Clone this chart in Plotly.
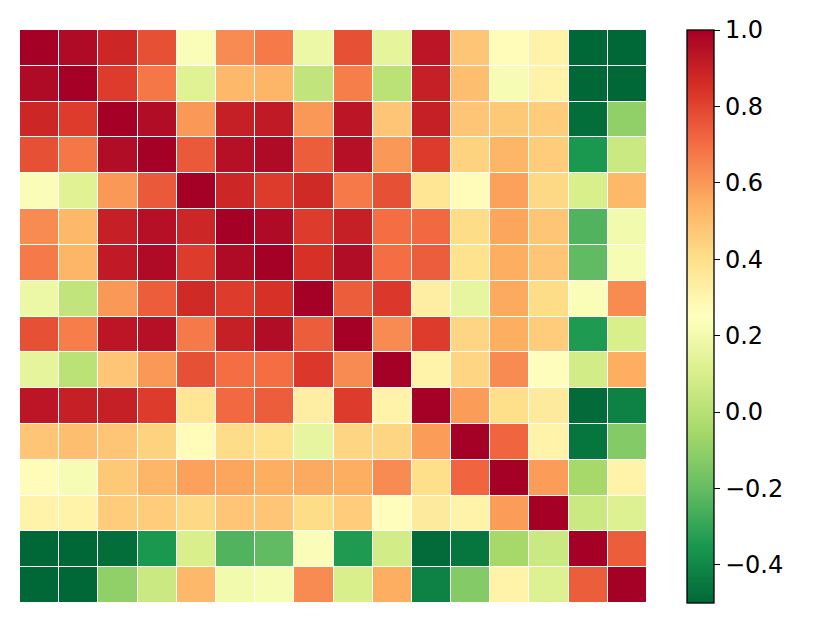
import plotly.graph_objects as go

labels = [str(i) for i in range(16)]

row_00 = [1.00, 0.97, 0.88, 0.77, 0.23, 0.63, 0.67, 0.18, 0.77, 0.15, 0.93, 0.48, 0.27, 0.31, -0.50, -0.50]
row_01 = [0.97, 1.00, 0.82, 0.68, 0.13, 0.52, 0.53, 0.03, 0.66, 0.01, 0.90, 0.50, 0.22, 0.31, -0.50, -0.50]
row_02 = [0.88, 0.82, 1.00, 0.96, 0.60, 0.90, 0.92, 0.60, 0.93, 0.48, 0.90, 0.48, 0.47, 0.46, -0.48, -0.10]
row_03 = [0.77, 0.68, 0.96, 1.00, 0.75, 0.95, 0.97, 0.74, 0.95, 0.60, 0.82, 0.44, 0.53, 0.46, -0.35, 0.06]
row_04 = [0.23, 0.13, 0.60, 0.75, 1.00, 0.88, 0.82, 0.87, 0.67, 0.77, 0.37, 0.27, 0.58, 0.42, 0.10, 0.52]
row_05 = [0.63, 0.52, 0.90, 0.95, 0.88, 1.00, 0.97, 0.82, 0.90, 0.70, 0.71, 0.41, 0.57, 0.48, -0.24, 0.20]
row_06 = [0.67, 0.53, 0.92, 0.97, 0.82, 0.97, 1.00, 0.85, 0.96, 0.70, 0.74, 0.39, 0.55, 0.48, -0.21, 0.22]
row_07 = [0.18, 0.03, 0.60, 0.74, 0.87, 0.82, 0.85, 1.00, 0.74, 0.83, 0.33, 0.16, 0.56, 0.41, 0.23, 0.63]
row_08 = [0.77, 0.66, 0.93, 0.95, 0.67, 0.90, 0.96, 0.74, 1.00, 0.63, 0.82, 0.43, 0.55, 0.46, -0.34, 0.10]
row_09 = [0.15, 0.01, 0.48, 0.60, 0.77, 0.70, 0.70, 0.83, 0.63, 1.00, 0.31, 0.43, 0.63, 0.26, 0.08, 0.55]
row_10 = [0.93, 0.90, 0.90, 0.82, 0.37, 0.71, 0.74, 0.33, 0.82, 0.31, 1.00, 0.59, 0.40, 0.35, -0.49, -0.42]
row_11 = [0.48, 0.50, 0.48, 0.44, 0.27, 0.41, 0.39, 0.16, 0.43, 0.43, 0.59, 1.00, 0.72, 0.31, -0.46, -0.13]
row_12 = [0.27, 0.22, 0.47, 0.53, 0.58, 0.57, 0.55, 0.56, 0.55, 0.63, 0.40, 0.72, 1.00, 0.59, -0.05, 0.31]
row_13 = [0.31, 0.31, 0.46, 0.46, 0.42, 0.48, 0.48, 0.41, 0.46, 0.26, 0.35, 0.31, 0.59, 1.00, 0.06, 0.12]
row_14 = [-0.50, -0.50, -0.48, -0.35, 0.10, -0.24, -0.21, 0.23, -0.34, 0.08, -0.49, -0.46, -0.05, 0.06, 1.00, 0.74]
row_15 = [-0.50, -0.50, -0.10, 0.06, 0.52, 0.20, 0.22, 0.63, 0.10, 0.55, -0.42, -0.13, 0.31, 0.12, 0.74, 1.00]

matrix = [row_00, row_01, row_02, row_03, row_04, row_05, row_06, row_07,
          row_08, row_09, row_10, row_11, row_12, row_13, row_14, row_15]

cbar_ticks = [-0.4, -0.2, 0.0, 0.2, 0.4, 0.6, 0.8, 1.0]

rdylgn_r = ['#006837', '#1a9850', '#66bd63', '#a6d96a', '#d9ef8b', '#ffffbf',
            '#fee08b', '#fdae61', '#f46d43', '#d73027', '#a50026']
colorscale = [[i / 10, c] for i, c in enumerate(rdylgn_r)]

fig = go.Figure(go.Heatmap(
    z=matrix, x=labels, y=labels,
    colorscale=colorscale, zmin=-0.5, zmax=1.0,
    xgap=1, ygap=1,
    colorbar=dict(
        x=(687 - 20) / 627, xanchor='left', xpad=0, xref='paper',
        y=0.5, yanchor='middle', len=1, lenmode='fraction', ypad=0,
        thickness=27, thicknessmode='pixels',
        outlinewidth=1.3, outlinecolor='black',
        tickvals=cbar_ticks, tickformat='.1f',
        ticks='outside', ticklen=6, tickwidth=1.2, tickcolor='black',
        tickfont=dict(family='DejaVu Sans', size=24, color='black'),
    ),
))

fig.update_xaxes(showticklabels=False, showgrid=False, zeroline=False, ticks='')
fig.update_yaxes(showticklabels=False, showgrid=False, zeroline=False, ticks='', autorange='reversed')

fig.update_layout(
    width=830, height=623,
    margin=dict(l=12, r=191, t=22, b=28),
    paper_bgcolor='white', plot_bgcolor='white',
)

fig.write_html("out.html")
